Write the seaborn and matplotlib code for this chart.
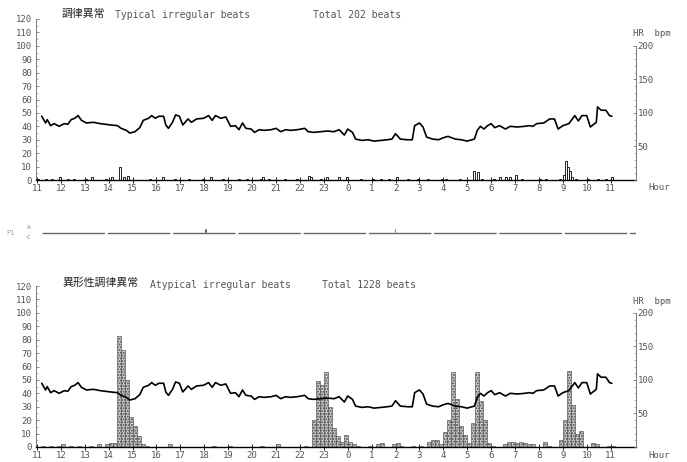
import numpy as np
import pandas as pd
import seaborn as sns
import matplotlib.pyplot as plt
from matplotlib.ticker import MultipleLocator, FixedLocator

# heart rate trace, elapsed hours from 11:00 and bpm
hr_t = [0.2, 0.36, 0.43, 0.57, 0.72, 0.93, 1.14, 1.29, 1.43, 1.58,
        1.72, 1.86, 2.07, 2.36, 2.65, 3.09, 3.37, 3.52, 3.74, 3.88,
        4.1, 4.3, 4.45, 4.67, 4.8, 4.95, 5.1, 5.3, 5.39, 5.5,
        5.67, 5.8, 5.96, 6.1, 6.32, 6.46, 6.68, 6.97, 7.18, 7.33,
        7.47, 7.69, 7.9, 8.1, 8.3, 8.45, 8.6, 8.74, 8.96, 9.1,
        9.3, 9.5, 9.8, 10.0, 10.2, 10.4, 10.6, 10.9, 11.2, 11.35,
        11.57, 11.86, 12.14, 12.43, 12.64, 12.86, 13.0, 13.2, 13.33, 13.6,
        13.85, 14.1, 14.4, 14.65, 14.85, 15.0, 15.2, 15.5, 15.7, 15.8,
        16.0, 16.15, 16.3, 16.55, 16.8, 17.0, 17.2, 17.5, 17.75, 18.0,
        18.3, 18.42, 18.55, 18.7, 18.85, 19.0, 19.15, 19.35, 19.6, 19.8,
        20.1, 20.4, 20.6, 20.75, 20.9, 21.2, 21.45, 21.65, 21.8, 22.0,
        22.25, 22.5, 22.65, 22.8, 23.0, 23.15, 23.4, 23.45, 23.6, 23.8,
        23.95, 24.05]
hr_bpm = [95, 85, 90, 81, 84, 80, 84, 83, 90, 92,
          96, 89, 85, 86, 84, 82, 81, 77, 74, 70,
          72, 78, 89, 92, 96, 92, 95, 95, 82, 77,
          86, 97, 95, 82, 91, 86, 91, 92, 96, 89,
          96, 92, 94, 80, 81, 75, 85, 77, 76, 71,
          75, 74, 75, 77, 72, 75, 74, 75, 77, 72,
          71, 72, 73, 72, 75, 67, 76, 71, 61, 59,
          60, 58, 59, 60, 61, 69, 61, 60, 60, 81,
          85, 79, 64, 61, 60, 63, 65, 61, 60, 58,
          61, 74, 80, 76, 81, 84, 78, 81, 76, 80,
          79, 80, 81, 80, 84, 85, 91, 91, 76, 81,
          84, 96, 88, 96, 96, 79, 86, 109, 104, 104,
          96, 95]

# typical irregular beats, counts per 5 min bin (nonzero bins only)
typ_t = [0.07, 0.36, 0.65, 0.96, 1.29, 1.54, 2.0, 2.3, 2.87, 3.09,
         3.49, 3.63, 3.78, 4.67, 5.32, 5.82, 6.39, 6.97, 7.28, 7.83,
         8.48, 8.76, 9.34, 9.48, 9.7, 10.34, 10.85, 11.35, 11.49, 11.85,
         12.14, 12.64, 12.96, 13.58, 14.0, 14.34, 14.69, 15.07, 15.51, 15.96,
         16.34, 16.96, 17.14, 17.72, 18.29, 18.46, 18.62, 19.1, 19.38, 19.59,
         19.8, 20.0, 20.28, 21.04, 21.31, 21.87, 22.04, 22.12, 22.21, 22.29,
         22.37, 22.57, 23.04, 23.46, 23.8, 24.05]
typ_n = [1, 1, 1, 2, 1, 1, 1, 2, 1, 2,
         10, 2, 3, 1, 2, 1, 1, 1, 2, 1,
         1, 1, 1, 2, 1, 1, 1, 3, 2, 1,
         2, 2, 2, 1, 1, 1, 1, 2, 1, 1,
         1, 1, 1, 1, 7, 6, 1, 1, 2, 2,
         2, 4, 1, 1, 1, 1, 4, 14, 10, 7,
         2, 1, 1, 1, 1, 2]

# atypical irregular beats, counts per 10 min bin (nonzero bins only)
atyp_t = [0.25, 0.58, 0.92, 1.08, 1.42, 1.75, 2.25, 2.58, 2.92, 3.08,
          3.25, 3.42, 3.58, 3.75, 3.92, 4.08, 4.25, 4.42, 4.58, 5.58,
          7.42, 8.08, 9.42, 10.08, 11.25, 11.58, 11.75, 11.92, 12.08, 12.25,
          12.42, 12.58, 12.75, 12.92, 13.08, 13.25, 13.42, 13.92, 14.25, 14.42,
          14.92, 15.08, 15.25, 15.75, 16.08, 16.42, 16.58, 16.75, 16.92, 17.08,
          17.25, 17.42, 17.58, 17.75, 17.92, 18.08, 18.25, 18.42, 18.58, 18.75,
          18.92, 19.08, 19.58, 19.75, 19.92, 20.08, 20.25, 20.42, 20.58, 20.75,
          21.25, 21.42, 21.92, 22.08, 22.25, 22.42, 22.58, 22.75, 23.25, 23.42,
          23.92, 24.08]
atyp_n = [1, 1, 1, 2, 1, 1, 1, 2, 2, 3,
          3, 83, 72, 50, 22, 16, 8, 2, 1, 2,
          1, 1, 1, 2, 1, 20, 49, 46, 56, 30,
          14, 8, 4, 9, 4, 2, 1, 1, 2, 3,
          2, 3, 1, 1, 1, 4, 5, 5, 2, 11,
          20, 56, 36, 16, 9, 3, 18, 56, 34, 20,
          3, 1, 2, 4, 4, 3, 4, 3, 2, 2,
          4, 1, 5, 20, 57, 31, 10, 12, 3, 2,
          1, 1]

# events on the middle strip
mid_t = [7.05, 14.98]

hour_labels = [str((11 + h) % 24) for h in range(25)]
left_ticks = list(range(0, 130, 10))
hr_ticks = [50, 100, 150, 200]
hr_minor = list(range(0, 210, 10))

sns.set_style("white")
plt.rcParams['font.family'] = ['DejaVu Sans Mono', 'Noto Sans CJK JP']

W, H = 687, 462
fig = plt.figure(figsize=(6.87, 4.62), dpi=100)
GREY = '#555555'
XL = (-0.04, 25.06)


def px_axes(x0, y0, x1, y1):
    return fig.add_axes([x0 / W, 1 - y1 / H, (x1 - x0) / W, (y1 - y0) / H])


def ftext(x, y, s, **kw):
    kw.setdefault('color', GREY)
    kw.setdefault('fontsize', 7)
    fig.text(x / W, 1 - y / H, s, va='center', **kw)


def style_panel(ax):
    ax.set_xlim(*XL)
    ax.set_ylim(0, 120)
    ax.set_xlabel('')
    ax.set_ylabel('')
    for s in ['top', 'right']:
        ax.spines[s].set_visible(False)
    ax.spines['left'].set_color('#777777')
    ax.spines['left'].set_linewidth(0.7)
    ax.spines['bottom'].set_color('black')
    ax.spines['bottom'].set_linewidth(1.0)
    ax.xaxis.set_major_locator(FixedLocator(range(25)))
    ax.set_xticklabels(hour_labels)
    ax.xaxis.set_minor_locator(MultipleLocator(1 / 6))
    ax.yaxis.set_major_locator(FixedLocator(left_ticks))
    ax.yaxis.set_minor_locator(MultipleLocator(5))
    ax.tick_params(axis='x', which='major', direction='inout', length=4,
                   width=0.7, labelsize=6.5, labelcolor=GREY, pad=1)
    ax.tick_params(axis='x', which='minor', direction='inout', length=2.5, width=0.5)
    ax.tick_params(axis='y', which='major', direction='in', length=2.5,
                   width=0.6, labelsize=6.5, labelcolor=GREY, pad=3, color='#777777')
    ax.tick_params(axis='y', which='minor', direction='in', length=1.2,
                   width=0.5, color='#999999')
    ax.tick_params(bottom=True, left=True)


def hr_axis(ax):
    ax2 = ax.twinx()
    sns.lineplot(x=hr_t, y=hr_bpm, ax=ax2, color='black', linewidth=1.2)
    ax2.set_ylim(0, 240)
    ax2.set_xlim(*XL)
    ax2.set_ylabel('')
    for s in ['top', 'left', 'bottom']:
        ax2.spines[s].set_visible(False)
    ax2.spines['right'].set_bounds(0, 200)
    ax2.spines['right'].set_color('#777777')
    ax2.spines['right'].set_linewidth(0.7)
    ax2.yaxis.set_major_locator(FixedLocator(hr_ticks))
    ax2.yaxis.set_minor_locator(FixedLocator(hr_minor))
    ax2.tick_params(axis='y', which='major', direction='in', length=2.5, width=0.6,
                    labelsize=6.5, labelcolor=GREY, pad=1, color='#777777', right=True)
    ax2.tick_params(axis='y', which='minor', direction='in', length=1.2, width=0.5,
                    color='#999999', right=True)
    return ax2


# top panel: typical irregular beats
ax_top = px_axes(36, 19, 636, 180)
sns.histplot(x=typ_t, weights=typ_n, binwidth=1 / 12, binrange=(0, 24.5), ax=ax_top,
             color='white', edgecolor='black', linewidth=0.6, alpha=1)
style_panel(ax_top)
hr_axis(ax_top)

# bottom panel: atypical irregular beats
ax_bot = px_axes(36, 286, 636, 447)
sns.histplot(x=atyp_t, weights=atyp_n, binwidth=1 / 6, binrange=(0, 24.5), ax=ax_bot,
             color='#d0d0d0', edgecolor='#444444', linewidth=0.4, alpha=1, hatch='......')
style_panel(ax_bot)
hr_axis(ax_bot)

# middle strip
ax_mid = px_axes(36, 224, 636, 242)
ax_mid.set_xlim(*XL)
ax_mid.set_ylim(0, 1)
ax_mid.axhline(0.5, xmin=0.01, xmax=1.0, color='#666666', linewidth=1.0,
               linestyle=(0, (45, 2)))
ax_mid.bar(mid_t, [0.3] * len(mid_t), width=0.12, bottom=0.5, color='#444444')
ax_mid.axis('off')

# texts
ftext(62, 14, '調律異常', color='#222222', fontsize=7.8, family=['Noto Sans CJK JP'])
ftext(115, 15, 'Typical irregular beats')
ftext(313, 15, 'Total 202 beats')
ftext(633, 34, 'HR  bpm', fontsize=6.5)
ftext(648, 187, 'Hour', fontsize=6.5)

ftext(62, 283, '異形性調律異常', color='#222222', fontsize=7.8, family=['Noto Sans CJK JP'])
ftext(150, 285, 'Atypical irregular beats')
ftext(322, 285, 'Total 1228 beats')
ftext(633, 302, 'HR  bpm', fontsize=6.5)
ftext(648, 455, 'Hour', fontsize=6.5)

ftext(6, 233, 'P1', color='#aaaaaa', fontsize=5)
ftext(27, 228, 'A', color='#888888', fontsize=4.5)
ftext(27, 237.5, 'C', color='#888888', fontsize=4.5)

fig.savefig('out.png', dpi=100)
